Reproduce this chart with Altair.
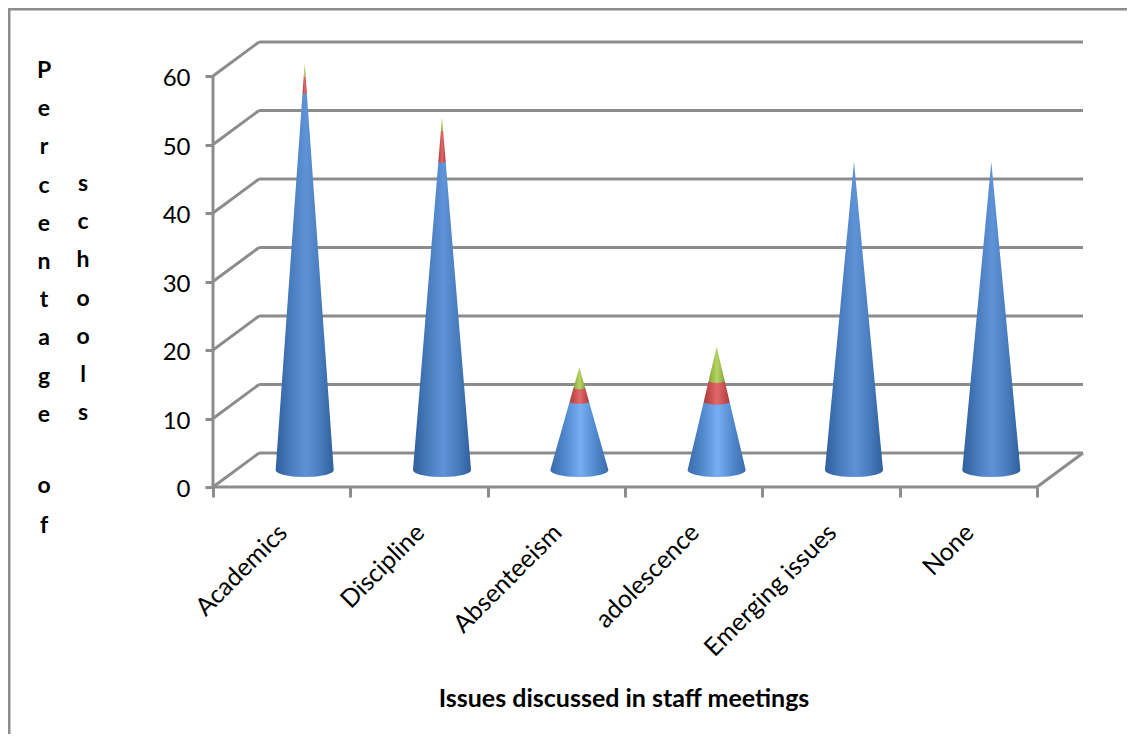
import altair as alt
import numpy as np
import pandas as pd

categories = ["Academics", "Discipline", "Absenteeism", "adolescence", "Emerging issues", "None"]
series_blue = [55, 45, 10, 10, 45, 45]
series_red = [2.4, 4.5, 2, 3, 0, 0]
series_green = [2, 2, 3, 5, 0, 0]
y_ticks = [0, 10, 20, 30, 40, 50, 60]
title_col1_top = ["P", "e", "r", "c", "e", "n", "t", "a", "g", "e"]
title_col1_low = ["o", "f"]
title_col2 = ["s", "c", "h", "o", "o", "l", "s"]
x_title = "Issues discussed in staff meetings"

GRAY = "#8c8c8c"
PLOT_W, PLOT_H = 870, 445
DEPTH_X, DEPTH_Y = 46 / 137.2, 34 / 6.85
X_MAX, Y_MAX = 6 + DEPTH_X, 60 + DEPTH_Y
RADIUS = 0.2114   # base radius in category units
ELLIPSE = 7 / 6.85  # semi-minor of the base ellipse in value units

x_scale = alt.Scale(domain=[0, X_MAX], nice=False, zero=False)
y_scale = alt.Scale(domain=[0, Y_MAX], nice=False, zero=False)
x_axis = alt.Axis(
    values=list(range(7)), labels=False, domain=False, grid=False, title=None,
    ticks=True, tickSize=10, tickWidth=3, tickColor=GRAY,
)
y_axis = alt.Axis(
    values=y_ticks, domain=False, grid=False, title=None, tickSize=8, tickWidth=3,
    tickColor=GRAY, labelFont="Lato", labelFontSize=24, labelColor="#000000",
    labelPadding=15, labelOffset=2.5,
)


def cone_segment(cat_i, low, high, total):
    """Outline of a stretch of a cone, lower rim ellipse included."""
    cx = cat_i + 0.5 + DEPTH_X / 2
    base = DEPTH_Y / 2
    rows = []
    r_low = RADIUS * (1 - low / total)
    b_low = ELLIPSE * (1 - low / total)
    for t in np.linspace(1, 0, 25):
        rows.append((base + low - b_low * t, r_low * np.sqrt(max(0.0, 1 - t * t))))
    for h in np.linspace(low, high, 12)[1:]:
        rows.append((base + h, RADIUS * (1 - h / total)))
    return [
        {"cone": cat_i, "y": y, "x1": cx - r, "x2": cx + r} for y, r in rows
    ]


tall_rows, short_rows, red_rows, green_rows = [], [], [], []
for i in range(len(categories)):
    a, b, c = series_blue[i], series_red[i], series_green[i]
    tot = a + b + c
    if a > 20:
        tall_rows += cone_segment(i, 0, a, tot)
    else:
        short_rows += cone_segment(i, 0, a, tot)
    if b:
        red_rows += cone_segment(i, a, a + b, tot)
    if c:
        green_rows += cone_segment(i, a + b, tot, tot)


def grad(edge, mid, centre):
    return alt.Gradient(
        gradient="linear", x1=0, x2=1, y1=0, y2=0,
        stops=[
            alt.GradientStop(offset=0, color=edge),
            alt.GradientStop(offset=0.25, color=mid),
            alt.GradientStop(offset=0.52, color=centre),
            alt.GradientStop(offset=0.78, color=mid),
            alt.GradientStop(offset=1, color=edge),
        ],
    )


def cone_layer(rows, fill):
    return alt.Chart(pd.DataFrame(rows)).mark_area(
        orient="horizontal", color=fill, clip=False
    ).encode(
        y=alt.Y("y:Q", scale=y_scale, axis=y_axis),
        x=alt.X("x1:Q", scale=x_scale, axis=x_axis),
        x2="x2:Q",
        detail="cone:N",
    )


lines = []
for v in y_ticks:
    lines.append({"x": 0, "x2": DEPTH_X, "y": v, "y2": v + DEPTH_Y})
    lines.append({"x": DEPTH_X, "x2": X_MAX, "y": v + DEPTH_Y, "y2": v + DEPTH_Y})
lines.append({"x": 0, "x2": 6, "y": 0, "y2": 0})
lines.append({"x": 6, "x2": X_MAX, "y": 0, "y2": DEPTH_Y})
lines.append({"x": 0, "x2": 0, "y": 0, "y2": 60})

walls = alt.Chart(pd.DataFrame(lines)).mark_rule(color=GRAY, strokeWidth=3).encode(
    x=alt.X("x:Q", scale=x_scale, axis=x_axis),
    x2="x2:Q",
    y=alt.Y("y:Q", scale=y_scale, axis=y_axis),
    y2="y2:Q",
)

cat_df = pd.DataFrame({"name": categories, "pos": [i + 0.5 for i in range(6)]})
cat_labels = alt.Chart(cat_df).mark_text(
    angle=315, align="right", baseline="middle", font="Lato", fontSize=25, color="#000000", dx=2
).encode(
    x=alt.X("pos:Q", scale=x_scale, axis=x_axis),
    y=alt.value(PLOT_H + 43),
    text="name:N",
)

anchor = pd.DataFrame({"k": [0]})
x_axis_title = alt.Chart(anchor).mark_text(
    font="Lato", fontSize=25, fontWeight="bold", color="#000000"
).encode(x=alt.value(624 - 213), y=alt.value(699 - 42), text=alt.value(x_title))


def stacked_letters(letters, x_px, y_px, leading):
    return alt.Chart(anchor).mark_text(
        font="Lato", fontSize=23, fontWeight="bold", color="#000000",
        lineHeight=leading, baseline="top",
    ).encode(x=alt.value(x_px - 213), y=alt.value(y_px - 42), text=alt.value(letters))


frame_left = alt.Chart(anchor).mark_rule(color=GRAY, strokeWidth=3).encode(
    x=alt.value(9 - 213), y=alt.value(-34), y2=alt.value(692)
)
frame_top = alt.Chart(anchor).mark_rule(color=GRAY, strokeWidth=3).encode(
    x=alt.value(8 - 213), x2=alt.value(1127 - 213), y=alt.value(-33)
)

chart = alt.layer(
    frame_left,
    frame_top,
    walls,
    cone_layer(tall_rows, grad("#2f5f9e", "#477bbb", "#5f93d8")),
    cone_layer(short_rows, grad("#3a6cab", "#5088cc", "#78aef2")),
    cone_layer(red_rows, grad("#a83c3c", "#c94f4f", "#e06a6a")),
    cone_layer(green_rows, grad("#84a33c", "#9cbc4c", "#b6d466")),
    cat_labels,
    x_axis_title,
    stacked_letters(title_col1_top, 44, 60, 38.2),
    stacked_letters(title_col1_low, 44, 475, 40),
    stacked_letters(title_col2, 83, 173, 38.2),
).properties(
    width=PLOT_W,
    height=PLOT_H,
    autosize=alt.AutoSizeParams(type="none"),
    padding={"left": 205, "top": 34, "right": 44, "bottom": 247},
    background="#ffffff",
).configure_view(stroke=None)

chart.save("out.html", embed_options={"renderer": "svg", "actions": False})
